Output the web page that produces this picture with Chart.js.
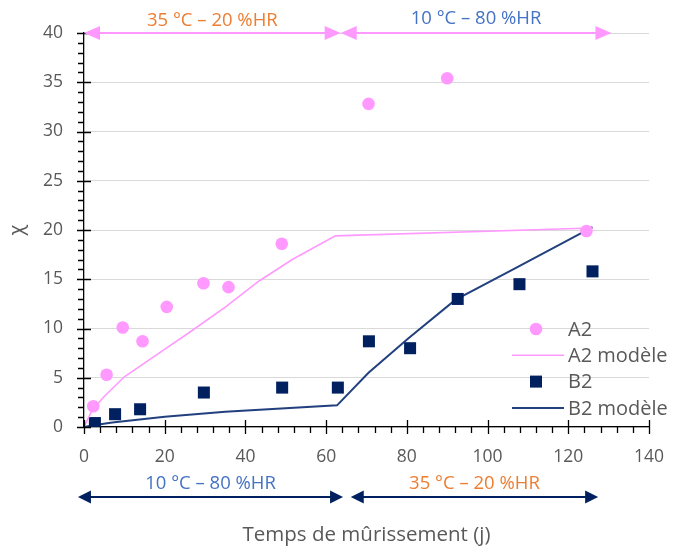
<!DOCTYPE html>
<html>
<head>
<meta charset="utf-8">
<script src="https://cdn.jsdelivr.net/npm/chart.js@4.4.0/dist/chart.umd.min.js"></script>
<style>
  html, body { margin: 0; padding: 0; background: #fff; }
  #wrap { width: 673px; height: 547px; }
</style>
</head>
<body>
<div id="wrap"><canvas id="chart"></canvas></div>
<script>
// mesures A2 (points roses)
const a2Jours = [2.3, 5.6, 9.6, 14.5, 20.5, 29.6, 35.8, 49, 70.5, 90, 124.5];
const a2Chi = [2.1, 5.3, 10.1, 8.7, 12.2, 14.6, 14.2, 18.6, 32.8, 35.4, 19.9];
// modele A2
const a2ModeleJours = [0, 2, 5, 10, 18.6, 26.8, 35.1, 43.3, 51.6, 62.3, 126];
const a2ModeleChi = [0, 1.7, 3.1, 5.1, 7.5, 9.8, 12.2, 14.8, 17.0, 19.4, 20.2];
// mesures B2 (carres bleu marine)
const b2Jours = [2.7, 7.7, 13.9, 29.7, 49.1, 62.9, 70.6, 80.8, 92.6, 107.9, 126];
const b2Chi = [0.4, 1.3, 1.8, 3.5, 4.0, 4.0, 8.7, 8.0, 13.0, 14.5, 15.8];
// modele B2
const b2ModeleJours = [0, 2, 7, 20, 35, 62.7, 70.5, 80.4, 92, 106.8, 126];
const b2ModeleChi = [0, 0.15, 0.45, 1.05, 1.55, 2.2, 5.5, 9.0, 12.9, 16.1, 20.3];

const nomsSeries = ['A2', 'A2 modèle', 'B2', 'B2 modèle'];

// phases de conditionnement (fleches)
const phasesHautTextes = ['35 °C – 20 %HR', '10 °C – 80 %HR'];
const phasesHautLimites = [[0, 63.6], [63.6, 130.7]];
const phasesBasTextes = ['10 °C – 80 %HR', '35 °C – 20 %HR'];
const phasesBasLimites = [[-1.5, 64.2], [66.1, 127.4]];

const rose = '#FF99FF';
const marine = '#002060';
const marineLigne = '#22407E';
const orange = '#ED7D31';
const bleu = '#4472C4';
const gris = '#595959';
const police = '"Open Sans", Lato, sans-serif';

function pts(xs, ys) {
  return xs.map((v, i) => ({ x: v, y: ys[i] }));
}

function fleche(ctx, x1, x2, yy, couleur, epais, long, larg) {
  ctx.save();
  ctx.strokeStyle = couleur;
  ctx.fillStyle = couleur;
  ctx.lineWidth = epais;
  ctx.beginPath();
  ctx.moveTo(x1 + long - 1, yy);
  ctx.lineTo(x2 - long + 1, yy);
  ctx.stroke();
  ctx.beginPath();
  ctx.moveTo(x1, yy);
  ctx.lineTo(x1 + long, yy - larg / 2);
  ctx.lineTo(x1 + long, yy + larg / 2);
  ctx.closePath();
  ctx.fill();
  ctx.beginPath();
  ctx.moveTo(x2, yy);
  ctx.lineTo(x2 - long, yy - larg / 2);
  ctx.lineTo(x2 - long, yy + larg / 2);
  ctx.closePath();
  ctx.fill();
  ctx.restore();
}

const decor = {
  id: 'decor',
  afterDraw(chart) {
    const { ctx, chartArea, scales: { x, y } } = chart;
    const axeY = y.getPixelForValue(0);
    const axeX = x.getPixelForValue(0);
    ctx.save();
    ctx.strokeStyle = '#000';
    ctx.lineWidth = 1.3;
    ctx.beginPath();
    // graduations x : majeures tous les 20, mineures tous les 4
    for (let v = 0; v <= 140; v += 4) {
      const px = Math.round(x.getPixelForValue(v)) + 0.5;
      if (v % 20 === 0) {
        ctx.moveTo(px, axeY - 7);
        ctx.lineTo(px, axeY + 7);
      } else {
        ctx.moveTo(px, axeY);
        ctx.lineTo(px, axeY + 6);
      }
    }
    // graduations y : majeures tous les 5, mineures tous les 1
    for (let v = 0; v <= 40; v += 1) {
      const py = Math.round(y.getPixelForValue(v)) + 0.5;
      if (v % 5 === 0) {
        ctx.moveTo(axeX - 7, py);
        ctx.lineTo(axeX + 7, py);
      } else {
        ctx.moveTo(axeX - 6, py);
        ctx.lineTo(axeX, py);
      }
    }
    ctx.stroke();

    // fleches du haut
    const yHaut = y.getPixelForValue(40);
    ctx.font = '18.5px ' + police;
    ctx.textAlign = 'center';
    ctx.textBaseline = 'middle';
    const couleursHaut = [orange, bleu];
    phasesHautLimites.forEach((lim, i) => {
      const x1 = x.getPixelForValue(lim[0]);
      const x2 = x.getPixelForValue(lim[1]);
      fleche(ctx, x1, x2, yHaut, rose, 2, 16, 14);
      ctx.fillStyle = couleursHaut[i];
      ctx.fillText(phasesHautTextes[i], (x1 + x2) / 2, yHaut - 12 - i * 2);
    });

    // fleches du bas
    const yBas = axeY + 70;
    const couleursBas = [bleu, orange];
    phasesBasLimites.forEach((lim, i) => {
      const x1 = x.getPixelForValue(lim[0]);
      const x2 = x.getPixelForValue(lim[1]);
      fleche(ctx, x1, x2, yBas, marine, 2, 13, 13);
      ctx.fillStyle = couleursBas[i];
      ctx.fillText(phasesBasTextes[i], (x1 + x2) / 2, yBas - 13);
    });

    // legende dans la zone de trace
    ctx.textAlign = 'left';
    ctx.font = '20px ' + police;
    const lx = chartArea.right - 81;
    chart.data.datasets.forEach((ds, i) => {
      const ly = chartArea.bottom - 98 + i * 26.3;
      if (ds.showLine) {
        ctx.strokeStyle = ds.borderColor;
        ctx.lineWidth = ds.borderWidth;
        ctx.beginPath();
        ctx.moveTo(lx - 56, ly);
        ctx.lineTo(lx - 4, ly);
        ctx.stroke();
      } else if (ds.pointStyle === 'rect') {
        ctx.fillStyle = ds.backgroundColor;
        ctx.fillRect(lx - 38, ly - 6, 12, 12);
      } else {
        ctx.fillStyle = ds.backgroundColor;
        ctx.beginPath();
        ctx.arc(lx - 32, ly, 6.3, 0, Math.PI * 2);
        ctx.fill();
      }
      ctx.fillStyle = gris;
      ctx.fillText(ds.label, lx, ly + 1);
    });
    ctx.restore();
  }
};

new Chart(document.getElementById('chart'), {
  type: 'scatter',
  data: {
    datasets: [
      {
        label: nomsSeries[0],
        data: pts(a2Jours, a2Chi),
        pointStyle: 'circle',
        pointRadius: 6.3,
        backgroundColor: rose,
        borderWidth: 0
      },
      {
        label: nomsSeries[1],
        data: pts(a2ModeleJours, a2ModeleChi),
        showLine: true,
        pointRadius: 0,
        borderColor: rose,
        borderWidth: 1.6,
        tension: 0
      },
      {
        label: nomsSeries[2],
        data: pts(b2Jours, b2Chi),
        pointStyle: 'rect',
        pointRadius: 8.5,
        backgroundColor: marine,
        borderWidth: 0
      },
      {
        label: nomsSeries[3],
        data: pts(b2ModeleJours, b2ModeleChi),
        showLine: true,
        pointRadius: 0,
        borderColor: marineLigne,
        borderWidth: 2,
        tension: 0
      }
    ]
  },
  options: {
    responsive: true,
    maintainAspectRatio: false,
    animation: false,
    layout: { padding: { top: 33, right: 24, left: 0, bottom: 0 } },
    plugins: {
      legend: { display: false },
      tooltip: { enabled: false }
    },
    scales: {
      x: {
        type: 'linear',
        min: 0,
        max: 140,
        afterFit: (s) => { s.height = 120; s.paddingLeft = 0; s.paddingRight = 0; },
        ticks: { stepSize: 20, color: gris, font: { family: police, size: 17.5 }, padding: 20 },
        grid: { display: false, drawTicks: false },
        border: { display: true, color: '#000', width: 1.3 },
        title: {
          display: true,
          text: 'Temps de mûrissement (j)',
          color: gris,
          font: { family: police, size: 20.5 },
          padding: { top: 0, bottom: 0 }
        }
      },
      y: {
        type: 'linear',
        min: 0,
        max: 40,
        afterFit: (s) => { s.width = 84; s.paddingTop = 0; s.paddingBottom = 0; },
        ticks: { stepSize: 5, color: gris, font: { family: police, size: 17.5 }, padding: 21 },
        grid: { color: '#D9D9D9', lineWidth: 1, drawTicks: false },
        border: { display: true, color: '#000', width: 1.3 },
        title: {
          display: true,
          text: 'χ',
          color: gris,
          font: { family: police, size: 20 },
          padding: { top: 5, bottom: 0 }
        }
      }
    }
  },
  plugins: [decor]
});
</script>
</body>
</html>
